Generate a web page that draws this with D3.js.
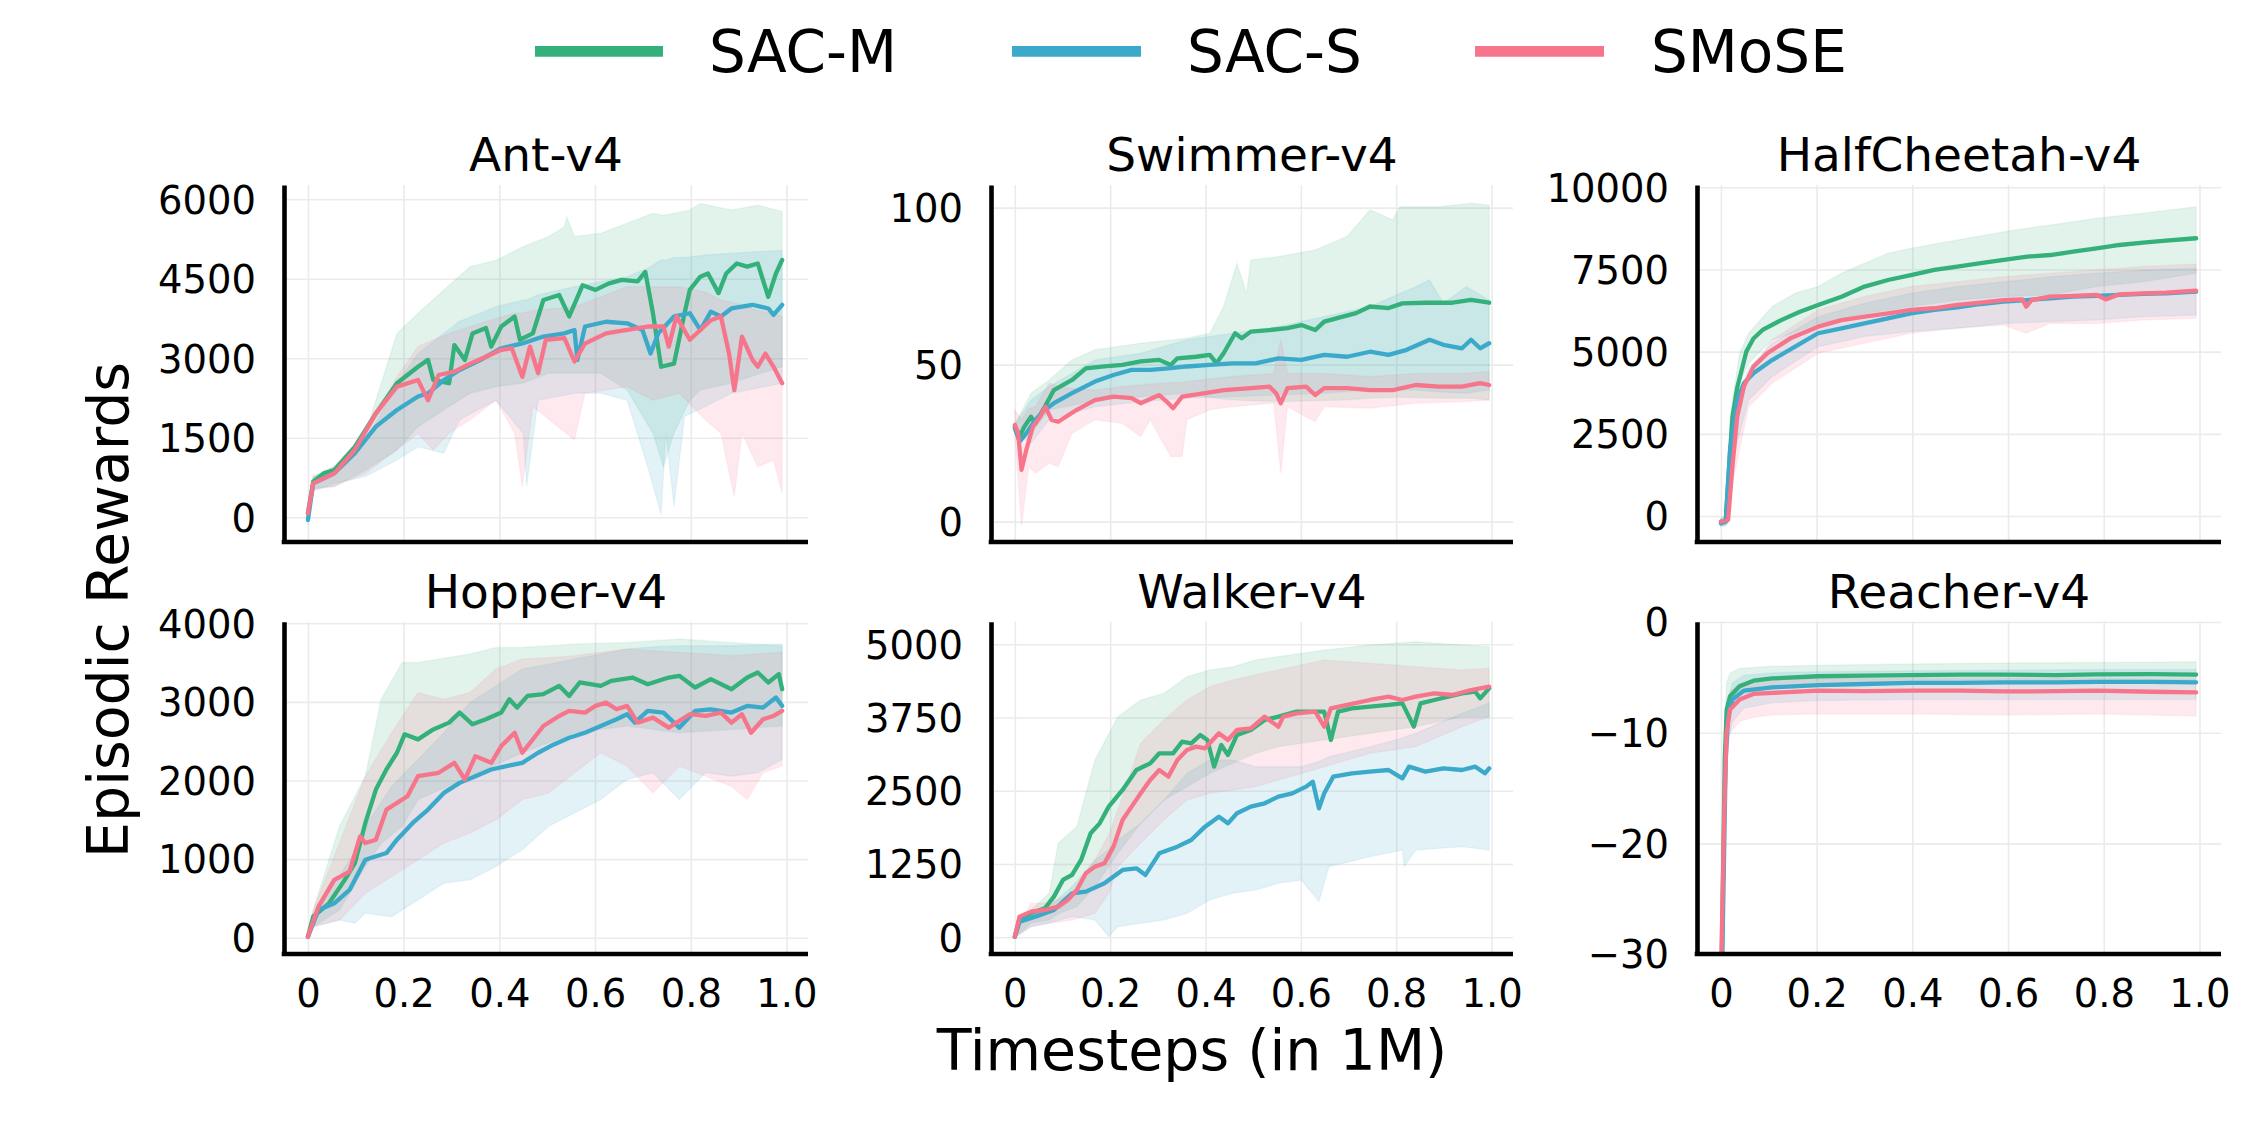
<!DOCTYPE html>
<html>
<head>
<meta charset="utf-8">
<script src="https://cdn.jsdelivr.net/npm/d3@7"></script>
<style>
  html, body { margin: 0; padding: 0; background: #ffffff; }
  svg { display: block; }
  text { font-family: "DejaVu Sans", sans-serif; fill: #000; }
</style>
</head>
<body>
<svg id="chart" width="2266" height="1122"></svg>
<script>
// ---------------- DATA ----------------
const seriesNames = ["SAC-M", "SAC-S", "SMoSE"];
const seriesColors = ["#34b17a", "#3ba9c9", "#f7758b"];
const panelTitles = ["Ant-v4", "Swimmer-v4", "HalfCheetah-v4", "Hopper-v4", "Walker-v4", "Reacher-v4"];
const xTicks = [0, 0.2, 0.4, 0.6, 0.8, 1.0];
const xTickLabels = ["0", "0.2", "0.4", "0.6", "0.8", "1.0"];
const antTicks = [0, 1500, 3000, 4500, 6000];
const swimmerTicks = [0, 50, 100];
const cheetahTicks = [0, 2500, 5000, 7500, 10000];
const hopperTicks = [0, 1000, 2000, 3000, 4000];
const walkerTicks = [0, 1250, 2500, 3750, 5000];
const reacherTicks = [-30, -20, -10, 0];

// mean curves: [timestep (1M), reward]
const antSACM = [[0,75],[0.011,670],[0.033,830],[0.055,890],[0.098,1330],[0.142,1960],[0.186,2530],[0.23,2840],[0.251,2970],[0.262,2590],[0.295,2530],[0.306,3250],[0.328,2970],[0.344,3470],[0.372,3570],[0.383,3220],[0.404,3600],[0.432,3790],[0.443,3350],[0.47,3470],[0.492,4100],[0.525,4195],[0.546,3790],[0.574,4380],[0.601,4290],[0.628,4410],[0.656,4480],[0.689,4450],[0.705,4630],[0.721,3850],[0.738,2840],[0.765,2900],[0.787,3850],[0.798,4290],[0.82,4540],[0.836,4600],[0.858,4230],[0.874,4600],[0.896,4790],[0.918,4730],[0.94,4790],[0.962,4160],[0.978,4600],[0.991,4855]];
const antSACS = [[0,-50],[0.011,640],[0.055,830],[0.098,1210],[0.142,1710],[0.186,2025],[0.23,2280],[0.251,2340],[0.284,2590],[0.317,2780],[0.361,2970],[0.404,3190],[0.448,3280],[0.492,3410],[0.536,3470],[0.557,3535],[0.563,2970],[0.579,3600],[0.623,3690],[0.667,3660],[0.699,3535],[0.716,3090],[0.732,3470],[0.765,3790],[0.798,3850],[0.82,3535],[0.842,3880],[0.863,3790],[0.885,3940],[0.929,4010],[0.962,3940],[0.973,3820],[0.991,4010]];
const antSMoSE = [[0,75],[0.011,640],[0.055,830],[0.098,1270],[0.142,1960],[0.186,2465],[0.23,2590],[0.251,2210],[0.273,2685],[0.306,2750],[0.339,2900],[0.372,3030],[0.404,3160],[0.426,3190],[0.448,2650],[0.464,3220],[0.481,2720],[0.497,3350],[0.536,3380],[0.557,2940],[0.579,3280],[0.623,3470],[0.667,3535],[0.71,3600],[0.743,3600],[0.754,3220],[0.77,3790],[0.798,3350],[0.82,3535],[0.842,3720],[0.863,3790],[0.88,3090],[0.891,2400],[0.907,3410],[0.929,2970],[0.94,2840],[0.956,3090],[0.973,2840],[0.991,2530]];
// bands: [timestep, lower, upper]
const antSACMBand = [[0,-100,200],[0.011,550,780],[0.055,580,960],[0.12,890,1580],[0.186,1270,3470],[0.23,1710,3850],[0.284,2025,4290],[0.339,2340,4730],[0.393,2465,4850],[0.448,2530,5100],[0.503,2720,5300],[0.536,2720,5480],[0.541,2720,5670],[0.557,2720,5300],[0.612,2720,5360],[0.667,2400,5550],[0.721,1585,5735],[0.743,955,5700],[0.765,1585,5735],[0.798,2210,5800],[0.82,2400,5920],[0.885,2530,5800],[0.94,2700,5890],[0.991,2840,5770]];
const antSACSBand = [[0,-150,50],[0.011,500,760],[0.055,640,890],[0.12,770,1400],[0.186,1080,2530],[0.23,1330,3090],[0.284,1210,3470],[0.317,1840,3700],[0.393,2210,3975],[0.45,1585,4100],[0.457,580,4100],[0.481,2210,4200],[0.557,2340,4350],[0.612,2340,4450],[0.667,2210,4540],[0.71,955,4700],[0.738,45,4855],[0.748,1585,4855],[0.765,200,4900],[0.787,1900,4900],[0.83,2090,4950],[0.885,2340,4980],[0.991,2530,5040]];
const antSMoSEBand = [[0,-50,200],[0.011,520,760],[0.055,580,960],[0.12,830,1585],[0.186,1270,2650],[0.23,1585,3220],[0.262,1270,3350],[0.295,1585,3470],[0.339,1840,3600],[0.393,2210,3750],[0.432,1585,3850],[0.448,580,3850],[0.47,2090,3900],[0.557,1460,3975],[0.579,2340,4050],[0.667,2465,4350],[0.721,2210,4350],[0.776,2340,4350],[0.83,1840,4250],[0.863,1585,4100],[0.891,390,4050],[0.907,1585,4000],[0.94,955,3900],[0.973,1080,3850],[0.991,450,3790]];

const swimmerSACM = [[0,30.3],[0.01,27],[0.019,30],[0.034,33.4],[0.043,31.3],[0.063,36.6],[0.082,41.9],[0.12,45.1],[0.149,48.8],[0.188,49.4],[0.226,49.9],[0.264,51],[0.303,51.5],[0.327,49.9],[0.341,52],[0.38,52.5],[0.409,53.1],[0.423,50.4],[0.438,53.6],[0.462,60],[0.476,58.4],[0.495,60.5],[0.534,61],[0.572,61.6],[0.601,62.6],[0.63,61],[0.649,63.7],[0.688,65.3],[0.716,66.4],[0.745,68.5],[0.784,68],[0.813,69.5],[0.861,69.7],[0.918,69.7],[0.957,70.6],[0.995,69.7]];
const swimmerSACS = [[0,29.7],[0.01,25.5],[0.024,28.1],[0.043,32.4],[0.063,35.6],[0.082,37.7],[0.12,40.9],[0.168,44.6],[0.207,46.7],[0.245,48.3],[0.284,48.3],[0.322,48.8],[0.361,49.4],[0.409,49.9],[0.457,50.4],[0.505,50.4],[0.553,52],[0.601,51.5],[0.649,53.1],[0.697,52.5],[0.745,54.1],[0.784,53.1],[0.822,54.7],[0.87,57.9],[0.899,56.3],[0.938,55.2],[0.957,57.9],[0.976,55.2],[0.995,56.8]];
const swimmerSMoSE = [[0,30.8],[0.007,28.1],[0.014,16.5],[0.024,22.8],[0.038,30.3],[0.053,33.4],[0.064,36.6],[0.077,32.4],[0.091,31.8],[0.13,35.6],[0.168,38.7],[0.207,39.8],[0.245,39.3],[0.264,37.7],[0.303,40.3],[0.322,37.7],[0.332,36.1],[0.351,39.8],[0.399,40.9],[0.438,41.9],[0.495,42.5],[0.534,43],[0.548,40.9],[0.558,37.7],[0.572,42.5],[0.611,43],[0.63,40.3],[0.649,42.5],[0.697,42.5],[0.745,41.9],[0.793,41.9],[0.841,43.5],[0.889,43],[0.938,43],[0.976,44.1],[0.995,43.5]];
const swimmerSACMBand = [[0,29,31],[0.034,28,40.9],[0.072,35.6,45.1],[0.12,37,51.5],[0.168,38.7,54.7],[0.264,39.8,56.8],[0.361,40.9,58.4],[0.409,39.5,60],[0.438,39,68.5],[0.466,38.7,82.3],[0.486,38.5,72.7],[0.495,38.5,83.3],[0.553,38.2,84.4],[0.63,38.5,86.5],[0.697,38.7,90.8],[0.745,39.3,99.3],[0.793,39.5,96.1],[0.808,39.6,100.3],[0.889,39.3,100.3],[0.957,39.3,101.4],[0.995,38.7,100.8]];
const swimmerSACSBand = [[0,28,31],[0.034,25,38.7],[0.072,32.4,43],[0.168,36.6,51.5],[0.264,38.2,53.6],[0.361,39.3,57.9],[0.457,39.8,60],[0.553,40.3,62.1],[0.649,40.9,65.3],[0.745,41.9,68.5],[0.841,41.9,74.8],[0.87,41.5,77],[0.899,41.2,69.5],[0.947,40.9,74.8],[0.995,41.9,70.6]];
const swimmerSMoSEBand = [[0,28,35.6],[0.014,-1.6,32.4],[0.029,17.5,36],[0.043,15.4,36.6],[0.072,18.6,44.1],[0.091,17.5,43],[0.12,28.1,42.5],[0.168,32.4,41.9],[0.226,31.3,43],[0.264,27,43.5],[0.284,32.4,43.8],[0.327,20.7,44.2],[0.351,20.7,44.4],[0.361,32.4,44.6],[0.409,35.6,45.4],[0.457,36.6,46.2],[0.543,37.7,47.2],[0.558,15.4,57.9],[0.572,36.6,47.2],[0.63,31.8,47.2],[0.649,36.6,47.2],[0.745,36.1,46.2],[0.841,37.7,47.2],[0.938,38.2,47.2],[0.995,38.7,47.8]];

const cheetahSACM = [[0,-170],[0.01,-170],[0.015,1000],[0.024,3000],[0.034,3900],[0.053,5000],[0.068,5400],[0.087,5660],[0.126,5960],[0.165,6215],[0.203,6420],[0.252,6670],[0.3,6980],[0.349,7180],[0.397,7330],[0.446,7485],[0.494,7590],[0.543,7690],[0.591,7790],[0.64,7890],[0.688,7940],[0.736,8040],[0.785,8145],[0.833,8245],[0.882,8315],[0.93,8380],[0.993,8450]];
const cheetahSACS = [[0,-220],[0.01,-170],[0.019,2010],[0.034,3530],[0.048,4040],[0.068,4340],[0.107,4745],[0.155,5150],[0.203,5560],[0.252,5710],[0.3,5860],[0.349,6015],[0.397,6165],[0.446,6270],[0.494,6350],[0.543,6450],[0.591,6520],[0.64,6570],[0.688,6625],[0.736,6675],[0.785,6695],[0.833,6725],[0.882,6760],[0.93,6775],[0.993,6825]];
const cheetahSMoSE = [[0,-170],[0.015,-120],[0.024,1500],[0.034,3020],[0.048,3935],[0.068,4545],[0.097,4950],[0.145,5405],[0.203,5760],[0.252,5960],[0.3,6065],[0.349,6165],[0.397,6270],[0.446,6320],[0.494,6420],[0.543,6490],[0.591,6570],[0.63,6590],[0.638,6370],[0.649,6570],[0.688,6675],[0.736,6695],[0.785,6725],[0.804,6590],[0.833,6745],[0.882,6775],[0.93,6795],[0.993,6855]];
const cheetahSACMBand = [[0,-300,-50],[0.01,-300,-50],[0.019,2010,3020],[0.039,4040,4950],[0.058,4645,5560],[0.107,5355,6370],[0.155,5600,6775],[0.203,5860,6980],[0.252,6000,7385],[0.3,6165,7690],[0.349,6270,7990],[0.397,6370,8145],[0.494,6570,8400],[0.591,6675,8650],[0.688,6725,8855],[0.785,6980,9055],[0.882,7130,9210],[0.993,7385,9410]];
const cheetahSACSBand = [[0,-320,-120],[0.01,-300,-50],[0.019,1500,2500],[0.039,2515,3835],[0.058,3530,4500],[0.107,4240,5255],[0.203,5150,6065],[0.3,5460,6470],[0.397,5610,6775],[0.494,5710,6980],[0.591,5860,7130],[0.688,5910,7280],[0.785,5960,7385],[0.882,6065,7485],[0.993,6115,7535]];
const cheetahSMoSEBand = [[0,-300,-50],[0.015,-250,0],[0.024,1000,2000],[0.039,2010,3530],[0.058,3325,4340],[0.107,4040,5355],[0.203,4950,6270],[0.3,5255,6675],[0.397,5560,6980],[0.494,5710,7130],[0.591,5810,7280],[0.638,5560,7330],[0.688,5860,7385],[0.785,5860,7485],[0.882,5960,7590],[0.993,6015,7665]];

const hopperSACM = [[0,13],[0.011,268],[0.044,438],[0.077,736],[0.098,949],[0.12,1460],[0.142,1885],[0.164,2140],[0.186,2353],[0.202,2587],[0.23,2523],[0.262,2650],[0.295,2736],[0.317,2864],[0.344,2715],[0.372,2779],[0.404,2864],[0.421,3034],[0.437,2927],[0.459,3076],[0.492,3098],[0.525,3204],[0.546,3076],[0.568,3247],[0.612,3204],[0.634,3268],[0.678,3310],[0.71,3225],[0.754,3310],[0.776,3332],[0.809,3183],[0.842,3289],[0.885,3161],[0.918,3310],[0.94,3374],[0.962,3247],[0.984,3353],[0.991,3161]];
const hopperSACS = [[0,13],[0.022,353],[0.055,438],[0.087,608],[0.12,991],[0.164,1077],[0.186,1247],[0.219,1460],[0.251,1630],[0.284,1842],[0.317,1970],[0.35,2055],[0.383,2140],[0.415,2183],[0.448,2225],[0.481,2353],[0.514,2459],[0.546,2544],[0.579,2608],[0.612,2693],[0.645,2779],[0.667,2843],[0.683,2736],[0.71,2885],[0.743,2864],[0.776,2672],[0.809,2885],[0.842,2906],[0.885,2864],[0.918,2949],[0.951,2927],[0.978,3055],[0.991,2949]];
const hopperSMoSE = [[0,13],[0.022,396],[0.055,736],[0.087,842],[0.109,1289],[0.12,1204],[0.142,1247],[0.164,1630],[0.208,1800],[0.23,2055],[0.273,2098],[0.306,2225],[0.328,2013],[0.35,2310],[0.383,2225],[0.404,2438],[0.432,2608],[0.448,2353],[0.492,2693],[0.525,2821],[0.546,2885],[0.579,2864],[0.601,2949],[0.623,2991],[0.645,2906],[0.667,2949],[0.689,2736],[0.721,2800],[0.754,2672],[0.798,2843],[0.831,2821],[0.863,2864],[0.885,2736],[0.907,2843],[0.926,2608],[0.951,2779],[0.973,2821],[0.991,2885]];
const hopperSACMBand = [[0,0,30],[0.011,140,353],[0.066,353,1417],[0.12,906,2055],[0.153,1200,3034],[0.197,1417,3502],[0.23,1757,3502],[0.339,2055,3608],[0.393,2200,3693],[0.448,2353,3693],[0.557,2608,3736],[0.667,2693,3757],[0.776,2608,3800],[0.885,2650,3757],[0.991,2693,3715]];
const hopperSACSBand = [[0,0,30],[0.011,140,311],[0.066,226,779],[0.098,183,1100],[0.12,311,1417],[0.175,268,1927],[0.23,481,2268],[0.284,694,2608],[0.339,736,2991],[0.393,906,3204],[0.448,1119,3417],[0.503,1417,3480],[0.557,1587,3545],[0.612,1757,3610],[0.667,2013,3672],[0.721,2098,3700],[0.776,1757,3715],[0.831,2098,3715],[0.885,2055,3715],[0.94,2098,3725],[0.991,2268,3736]];
const hopperSMoSEBand = [[0,0,30],[0.011,140,353],[0.066,226,1204],[0.12,566,2055],[0.175,779,2608],[0.23,991,3119],[0.284,1204,3034],[0.339,1332,3119],[0.393,1502,3417],[0.448,1757,3545],[0.503,1842,3560],[0.557,2098,3587],[0.612,2353,3630],[0.667,2183,3672],[0.721,1842,3650],[0.776,2183,3630],[0.831,2055,3610],[0.885,1927,3587],[0.918,1757,3600],[0.951,2098,3615],[0.991,2183,3630]];

const walkerSACM = [[0,11],[0.01,324],[0.034,410],[0.063,495],[0.082,694],[0.101,978],[0.12,1064],[0.139,1320],[0.159,1775],[0.178,1945],[0.197,2230],[0.226,2514],[0.255,2855],[0.284,2969],[0.303,3140],[0.332,3140],[0.351,3339],[0.37,3310],[0.389,3453],[0.404,3367],[0.418,2912],[0.433,3282],[0.447,3111],[0.466,3453],[0.495,3538],[0.524,3709],[0.553,3765],[0.591,3851],[0.63,3851],[0.649,3851],[0.663,3367],[0.678,3851],[0.707,3908],[0.745,3936],[0.784,3965],[0.813,3993],[0.837,3595],[0.851,3993],[0.88,4050],[0.909,4107],[0.938,4164],[0.966,4192],[0.976,4078],[0.995,4249]];
const walkerSACS = [[0,11],[0.01,267],[0.043,353],[0.082,466],[0.12,751],[0.149,779],[0.188,921],[0.226,1149],[0.255,1177],[0.274,1064],[0.303,1433],[0.341,1547],[0.37,1661],[0.399,1888],[0.428,2059],[0.447,1945],[0.466,2116],[0.495,2230],[0.524,2287],[0.553,2400],[0.582,2457],[0.611,2571],[0.625,2656],[0.638,2201],[0.649,2457],[0.668,2742],[0.707,2798],[0.745,2827],[0.784,2855],[0.813,2713],[0.827,2912],[0.861,2827],[0.899,2884],[0.938,2855],[0.966,2912],[0.986,2798],[0.995,2884]];
const walkerSMoSE = [[0,11],[0.01,353],[0.034,438],[0.063,466],[0.091,523],[0.111,637],[0.13,808],[0.149,1092],[0.168,1206],[0.188,1263],[0.207,1547],[0.226,2002],[0.245,2230],[0.264,2457],[0.284,2685],[0.303,2855],[0.322,2742],[0.341,3026],[0.361,3197],[0.38,3254],[0.399,3225],[0.428,3481],[0.447,3367],[0.466,3538],[0.495,3566],[0.524,3765],[0.553,3595],[0.563,3765],[0.591,3822],[0.63,3851],[0.649,3595],[0.663,3908],[0.697,3965],[0.745,4050],[0.784,4107],[0.813,4050],[0.841,4107],[0.88,4164],[0.918,4135],[0.957,4220],[0.995,4277]];
const walkerSACMBand = [[0,0,68],[0.034,239,466],[0.072,296,751],[0.091,400,1604],[0.13,523,1888],[0.168,865,3026],[0.216,1433,3765],[0.264,1945,4050],[0.313,2343,4164],[0.361,2571,4448],[0.409,2798,4562],[0.457,2969,4619],[0.505,3140,4733],[0.553,3254,4790],[0.649,3367,4903],[0.745,3481,4988],[0.841,3595,5045],[0.938,3765,4988],[0.995,3765,4960]];
const walkerSACSBand = [[0,0,68],[0.034,182,410],[0.072,239,523],[0.12,353,865],[0.168,296,1320],[0.197,11,1500],[0.216,182,1661],[0.264,239,1945],[0.313,296,2343],[0.361,410,2798],[0.409,637,3026],[0.457,751,3026],[0.505,808,2912],[0.553,921,2912],[0.601,978,2912],[0.638,609,3000],[0.659,1206,3083],[0.745,1376,3254],[0.813,1490,3400],[0.817,1206,3420],[0.841,1490,3481],[0.938,1547,3822],[0.995,1490,4000]];
const walkerSMoSEBand = [[0,0,68],[0.034,182,580],[0.072,239,580],[0.12,296,751],[0.168,410,1320],[0.197,751,1750],[0.216,1206,2173],[0.264,1604,3310],[0.313,2002,3709],[0.361,2343,4050],[0.409,2457,4277],[0.457,2514,4391],[0.505,2571,4480],[0.553,2685,4562],[0.649,2912,4733],[0.745,3140,4676],[0.841,3254,4619],[0.938,3595,4562],[0.995,3765,4590]];

const reacherSACM = [[0,-45],[0.002,-30],[0.008,-12.4],[0.012,-7.9],[0.019,-6.7],[0.039,-5.8],[0.068,-5.3],[0.107,-5.1],[0.203,-4.9],[0.3,-4.85],[0.397,-4.8],[0.5,-4.75],[0.591,-4.76],[0.7,-4.8],[0.785,-4.73],[0.9,-4.7],[0.993,-4.76]];
const reacherSACS = [[0,-45],[0.003,-30],[0.01,-12.4],[0.015,-8.5],[0.024,-7],[0.048,-6.2],[0.107,-5.9],[0.203,-5.7],[0.3,-5.6],[0.397,-5.5],[0.5,-5.5],[0.591,-5.45],[0.7,-5.45],[0.785,-5.4],[0.9,-5.4],[0.993,-5.45]];
const reacherSMoSE = [[0,-45],[0.001,-30],[0.008,-15.5],[0.012,-10],[0.019,-7.9],[0.039,-7],[0.068,-6.5],[0.107,-6.4],[0.203,-6.2],[0.3,-6.25],[0.397,-6.2],[0.5,-6.2],[0.591,-6.27],[0.7,-6.25],[0.785,-6.2],[0.9,-6.3],[0.993,-6.36]];
const reacherSACMBand = [[0,-45,-45],[0.002,-30,-28],[0.008,-14,-9],[0.012,-9,-5.5],[0.019,-7.5,-4.6],[0.039,-6.6,-4.2],[0.107,-5.9,-4.0],[0.203,-5.7,-3.9],[0.397,-5.6,-3.8],[0.591,-5.55,-3.7],[0.785,-5.5,-3.65],[0.993,-5.5,-3.6]];
const reacherSACSBand = [[0,-45,-45],[0.003,-30,-28],[0.01,-15,-10],[0.015,-11,-7],[0.024,-9,-5.5],[0.048,-7.8,-4.8],[0.107,-7.3,-4.6],[0.203,-7.1,-4.5],[0.397,-7.0,-4.4],[0.591,-7.0,-4.35],[0.785,-7.0,-4.3],[0.993,-7.0,-4.3]];
const reacherSMoSEBand = [[0,-45,-45],[0.001,-30,-28],[0.008,-18,-12],[0.012,-12,-8],[0.019,-10,-6.3],[0.039,-9.0,-5.6],[0.068,-8.6,-5.3],[0.107,-8.4,-5.2],[0.203,-8.3,-5.1],[0.397,-8.3,-5.1],[0.591,-8.4,-5.1],[0.785,-8.3,-5.1],[0.993,-8.5,-5.2]];

// ---------------- LAYOUT ----------------
const svg = d3.select("#chart");
const colsPx = [[284, 808], [991, 1513], [1697, 2221]];
const rowsPx = [[185, 542], [621.7, 954]];
const xDomain = [-0.05, 1.045];
const tickFont = 38.5, titleFont = 47, labelFont = 57, legendFont = 58;

const panels = [
  { title: panelTitles[0], ticks: antTicks, dom: [-466, 6270], means: [antSACM, antSACS, antSMoSE], bands: [antSACMBand, antSACSBand, antSMoSEBand] },
  { title: panelTitles[1], ticks: swimmerTicks, dom: [-6.5, 107.2], means: [swimmerSACM, swimmerSACS, swimmerSMoSE], bands: [swimmerSACMBand, swimmerSACSBand, swimmerSMoSEBand] },
  { title: panelTitles[2], ticks: cheetahTicks, dom: [-791, 10070], means: [cheetahSACM, cheetahSACS, cheetahSMoSE], bands: [cheetahSACMBand, cheetahSACSBand, cheetahSMoSEBand] },
  { title: panelTitles[3], ticks: hopperTicks, dom: [-207, 4020], means: [hopperSACM, hopperSACS, hopperSMoSE], bands: [hopperSACMBand, hopperSACSBand, hopperSMoSEBand] },
  { title: panelTitles[4], ticks: walkerTicks, dom: [-285, 5386], means: [walkerSACM, walkerSACS, walkerSMoSE], bands: [walkerSACMBand, walkerSACSBand, walkerSMoSEBand] },
  { title: panelTitles[5], ticks: reacherTicks, dom: [-30, 0.03], means: [reacherSACM, reacherSACS, reacherSMoSE], bands: [reacherSACMBand, reacherSACSBand, reacherSMoSEBand] }
];

const fmtY = d => d < 0 ? "\u2212" + Math.abs(d) : String(d);
const defs = svg.append("defs");

panels.forEach((p, i) => {
  const r = Math.floor(i / 3), c = i % 3;
  const [l, rt] = colsPx[c];
  const [t, b] = rowsPx[r];
  const x = d3.scaleLinear().domain(xDomain).range([l, rt]);
  const y = d3.scaleLinear().domain(p.dom).range([b, t]);
  const g = svg.append("g");

  defs.append("clipPath").attr("id", "clip" + i)
    .append("rect").attr("x", l).attr("y", t).attr("width", rt - l).attr("height", b - t);

  // grid
  g.append("g").attr("transform", `translate(0,${b})`)
    .call(d3.axisBottom(x).tickValues(xTicks).tickSize(-(b - t)).tickFormat(""))
    .call(s => s.select(".domain").remove())
    .call(s => s.selectAll("line").attr("stroke", "#ebebeb").attr("stroke-width", 1.6));
  g.append("g").attr("transform", `translate(${l},0)`)
    .call(d3.axisLeft(y).tickValues(p.ticks).tickSize(-(rt - l)).tickFormat(""))
    .call(s => s.select(".domain").remove())
    .call(s => s.selectAll("line").attr("stroke", "#ebebeb").attr("stroke-width", 1.6));

  const plot = g.append("g").attr("clip-path", `url(#clip${i})`);
  // bands
  p.bands.forEach((band, k) => {
    const area = d3.area().x(d => x(d[0])).y0(d => y(d[1])).y1(d => y(d[2]));
    plot.append("path").attr("d", area(band))
      .attr("fill", seriesColors[k]).attr("fill-opacity", 0.15)
      .attr("stroke", seriesColors[k]).attr("stroke-opacity", 0.08).attr("stroke-width", 1.5);
  });
  // mean lines
  p.means.forEach((m, k) => {
    const line = d3.line().x(d => x(d[0])).y(d => y(d[1]));
    plot.append("path").attr("d", line(m))
      .attr("fill", "none").attr("stroke", seriesColors[k])
      .attr("stroke-width", 4.3).attr("stroke-linejoin", "round").attr("stroke-linecap", "round");
  });

  // y axis (spine + labels)
  const ya = g.append("g").attr("transform", `translate(${l},0)`)
    .call(d3.axisLeft(y).tickValues(p.ticks).tickFormat(fmtY).tickSize(0).tickSizeOuter(0).tickPadding(28));
  ya.select(".domain").attr("stroke", "#000").attr("stroke-width", 4.6);
  ya.selectAll("text").attr("font-size", tickFont).attr("font-family", "DejaVu Sans").attr("dy", "0.36em");

  // x axis (spine + labels on bottom row)
  const xa = g.append("g").attr("transform", `translate(0,${b})`)
    .call(d3.axisBottom(x).tickValues(r === 1 ? xTicks : []).tickFormat((d, j) => xTickLabels[j]).tickSize(0).tickSizeOuter(0).tickPadding(25.7));
  xa.select(".domain").attr("stroke", "#000").attr("stroke-width", 4.6)
    .attr("d", `M${l - 2.3},0H${rt}`);
  xa.selectAll("text").attr("font-size", tickFont).attr("font-family", "DejaVu Sans");

  // title
  g.append("text").attr("x", (l + rt) / 2).attr("y", t - 13.8)
    .attr("text-anchor", "middle").attr("font-size", titleFont).text(p.title);
});

// axis labels
svg.append("text").attr("transform", "translate(128,610) rotate(-90)")
  .attr("text-anchor", "middle").attr("font-size", labelFont).text("Episodic Rewards");
svg.append("text").attr("x", 1192).attr("y", 1070)
  .attr("text-anchor", "middle").attr("font-size", labelFont).text("Timesteps (in 1M)");

// legend
const legendPos = [[535, 663, 709], [1012, 1141, 1187], [1475, 1604, 1651]];
seriesNames.forEach((name, k) => {
  const [x0, x1, tx] = legendPos[k];
  svg.append("line").attr("x1", x0).attr("x2", x1).attr("y1", 51.3).attr("y2", 51.3)
    .attr("stroke", seriesColors[k]).attr("stroke-width", 10.7);
  svg.append("text").attr("x", tx).attr("y", 71.7).attr("font-size", legendFont).text(name);
});
</script>
</body>
</html>
